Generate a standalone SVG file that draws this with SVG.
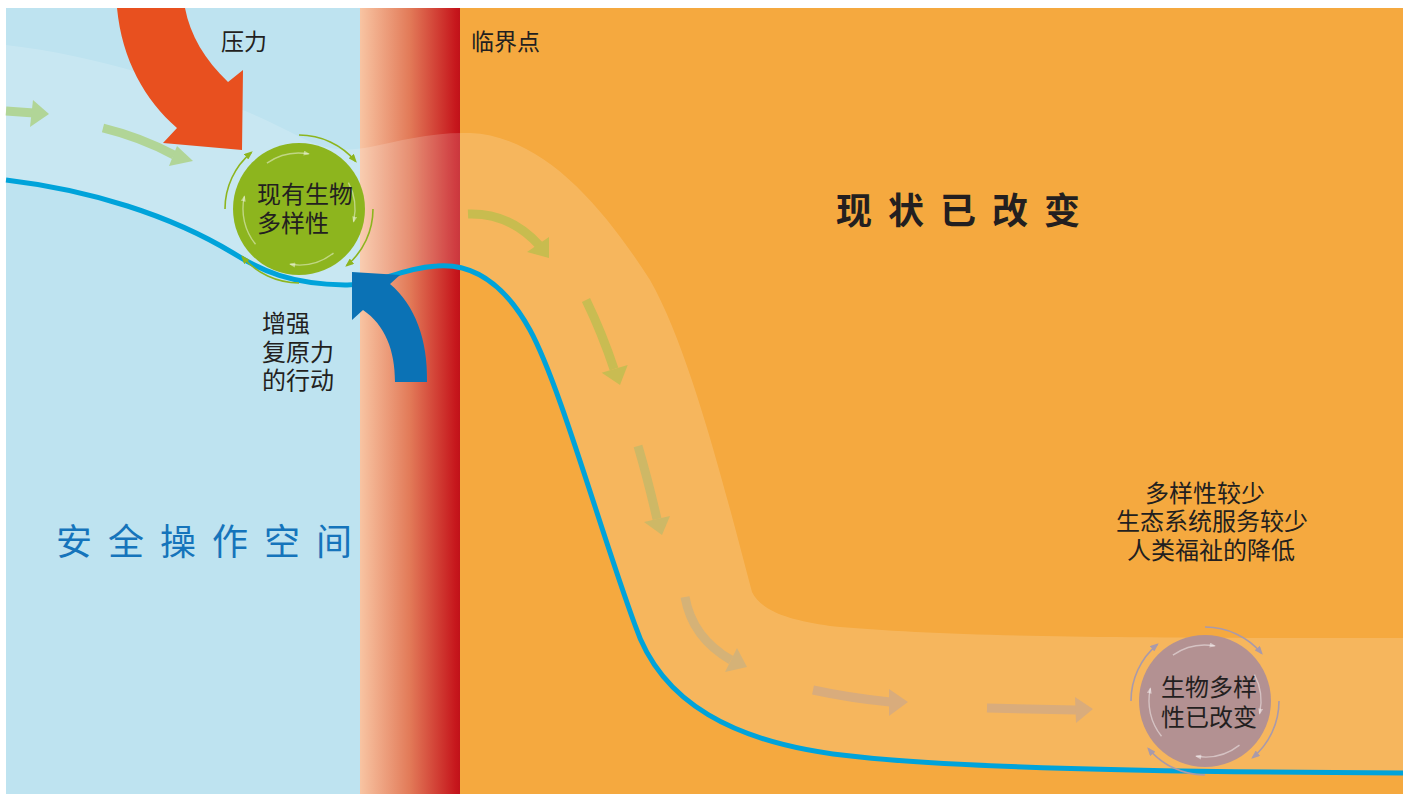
<svg xmlns="http://www.w3.org/2000/svg" width="1410" height="794" viewBox="0 0 1410 794">
<defs>
<linearGradient id="edge" x1="360" y1="0" x2="460" y2="0" gradientUnits="userSpaceOnUse">
<stop offset="0" stop-color="#F8C4A2"/>
<stop offset="0.5" stop-color="#E27A58"/>
<stop offset="0.96" stop-color="#C6161C"/>
<stop offset="1" stop-color="#C0121A"/>
</linearGradient>
<marker id="mG" viewBox="0 0 10 8" refX="8" refY="4" markerWidth="9" markerHeight="7" markerUnits="userSpaceOnUse" orient="auto"><path d="M0,0 L10,4 L0,8 Z" fill="#8DB51E"/></marker>
<marker id="mM" viewBox="0 0 10 8" refX="8" refY="4" markerWidth="9" markerHeight="7" markerUnits="userSpaceOnUse" orient="auto"><path d="M0,0 L10,4 L0,8 Z" fill="#A99AAB"/></marker>
<marker id="mW" viewBox="0 0 10 8" refX="8" refY="4" markerWidth="7" markerHeight="5" markerUnits="userSpaceOnUse" orient="auto"><path d="M0,0 L10,4 L0,8 Z" fill="#FFFFFF" fill-opacity="0.45"/></marker>
</defs>
<style>
text{font-family:"Noto Sans CJK SC","Noto Sans",sans-serif;fill:#231F20}
.lbl{font-size:23px}
.ctxt{font-size:24px}
.big{font-size:36px;letter-spacing:16px}
.outG{fill:none;stroke:#8DB51E;stroke-width:1.6;marker-end:url(#mG)}
.outM{fill:none;stroke:#A99AAB;stroke-width:1.6;marker-end:url(#mM)}
.inW{fill:none;stroke:#FFFFFF;stroke-opacity:0.45;stroke-width:1.4;marker-end:url(#mW)}
.shaft{fill:none;stroke-width:9}
</style>
<rect x="0" y="0" width="1410" height="794" fill="#FFFFFF"/>
<g id="background">
<rect x="6" y="8" width="354" height="786" fill="#BEE3F0"/>
<rect x="360" y="8" width="100" height="786" fill="url(#edge)"/>
<rect x="460" y="8" width="943" height="786" fill="#F5A93F"/>
<path d="M6,45 C120,58 230,100 300,137 C325,150 345,152 370,147 C400,141 430,132 470,133 C545,136 605,210 650,280 C690,350 725,490 752,592 C762,612 790,620 830,626 C950,637 1100,638 1403,638 L1403,773 C1150,772 960,768 860,757 C730,745 660,700 635,625 C600,530 560,385 530,330 C505,285 475,263 437,266 C400,268 375,286 345,285 C290,284 262,271 233,253 C170,215 90,190 6,180 Z" fill="#FFFFFF" fill-opacity="0.16"/>
<path d="M6,180 C90,190 170,215 233,253 C262,271 290,284 345,285 C375,286 400,268 437,266 C475,263 505,285 530,330 C560,385 600,530 635,625 C660,700 730,745 860,757 C960,768 1150,772 1403,773" fill="none" stroke="#00A3DA" stroke-width="5"/>
</g>
<g id="connectors">
<path class="shaft" d="M6,111 L34,113" stroke="#B1D597" stroke-width="11"/>
<polygon points="33,100 49,114 30,127" fill="#B1D597"/>
<path class="shaft" d="M103,128 Q140,137 174,155" stroke="#B1D597" stroke-width="10"/>
<polygon points="177,146 193,161 169,166" fill="#B1D597"/>
<path class="shaft" d="M468,214 C495,213 518,222 539,245" stroke="#C8BC4F"/>
<polygon points="527,252 549,237 549,258" fill="#C8BC4F"/>
<path class="shaft" d="M586,300 Q602,333 614,369" stroke="#C9BC52"/>
<polygon points="601.7,372.7 627.7,365 620,385" fill="#C9BC52"/>
<path class="shaft" d="M638,446 Q648,480 657,519" stroke="#CEB866"/>
<polygon points="644,522 670,516 662,535" fill="#CEB866"/>
<path class="shaft" d="M685,597 C690,625 705,645 731,660" stroke="#D5B277"/>
<polygon points="725,672 737,648 747,667" fill="#D5B277"/>
<path class="shaft" d="M813,690 Q850,698 890,702" stroke="#D9AC7C"/>
<polygon points="889,689 908,702 889,716" fill="#D9AC7C"/>
<path class="shaft" d="M987,708 L1076,710" stroke="#D9AC7C"/>
<polygon points="1075,697 1093,709 1076,723" fill="#D9AC7C"/>
<path id="pressure-arrow" d="M117,8 C122,60 145,100 177,128 L163,143 L242,150 L243,70 L228,82 C205,60 190,35 185,8 Z" fill="#E8501F"/>
</g>
<g id="node-current">
<circle cx="299" cy="209" r="66" fill="#8DB51E"/>
<path class="outG" d="M299,135 A74,74 0 0 1 355.7,161.4"/>
<path class="outG" d="M373,209 A74,74 0 0 1 346.6,265.7"/>
<path class="outG" d="M299,283 A74,74 0 0 1 242.3,256.6"/>
<path class="outG" d="M225,209 A74,74 0 0 1 251.4,152.3"/>
<path class="inW" d="M266.9,163.1 A56,56 0 0 1 308.7,153.9"/>
<path class="inW" d="M348.4,182.7 A56,56 0 0 1 353.6,221.6"/>
<path class="inW" d="M333.5,253.1 A56,56 0 0 1 290.2,264.3"/>
<path class="inW" d="M255.5,244.2 A56,56 0 0 1 244.4,196.4"/>
<text class="ctxt" x="257" y="203">现有生物</text>
<text class="ctxt" x="257" y="232">多样性</text>
</g>
<g id="node-changed">
<circle cx="1205" cy="701" r="66" fill="#B39192"/>
<path class="outM" d="M1205,627 A74,74 0 0 1 1261.7,653.4"/>
<path class="outM" d="M1279,701 A74,74 0 0 1 1252.6,757.7"/>
<path class="outM" d="M1205,775 A74,74 0 0 1 1148.3,748.6"/>
<path class="outM" d="M1131,701 A74,74 0 0 1 1157.4,644.3"/>
<path class="inW" d="M1172.9,655.1 A56,56 0 0 1 1214.7,645.9"/>
<path class="inW" d="M1254.4,674.7 A56,56 0 0 1 1259.6,713.6"/>
<path class="inW" d="M1239.5,745.1 A56,56 0 0 1 1196.2,756.3"/>
<path class="inW" d="M1161.5,736.2 A56,56 0 0 1 1150.4,688.4"/>
<text class="ctxt" x="1161" y="696">生物多样</text>
<text class="ctxt" x="1161" y="726">性已改变</text>
</g>
<g id="resilience-arrow">
<path d="M395,382 C395,350 385,325 363,310 L352,320 L352,272 L400,275 L390,284 C415,305 428,340 427,382 Z" fill="#0B72B5"/>
</g>
<g id="labels">
<text class="lbl" x="221" y="50">压力</text>
<text class="lbl" x="471" y="50">临界点</text>
<text class="big" x="836" y="224" font-weight="bold">现状已改变</text>
<text class="big" x="56" y="555" style="fill:#1574BB">安全操作空间</text>
<text class="ctxt" x="262" y="332">增强</text>
<text class="ctxt" x="262" y="361">复原力</text>
<text class="ctxt" x="262" y="389">的行动</text>
<text class="ctxt" x="1205" y="502" text-anchor="middle">多样性较少</text>
<text class="ctxt" x="1212" y="530" text-anchor="middle">生态系统服务较少</text>
<text class="ctxt" x="1211" y="559" text-anchor="middle">人类福祉的降低</text>
</g>
</svg>
